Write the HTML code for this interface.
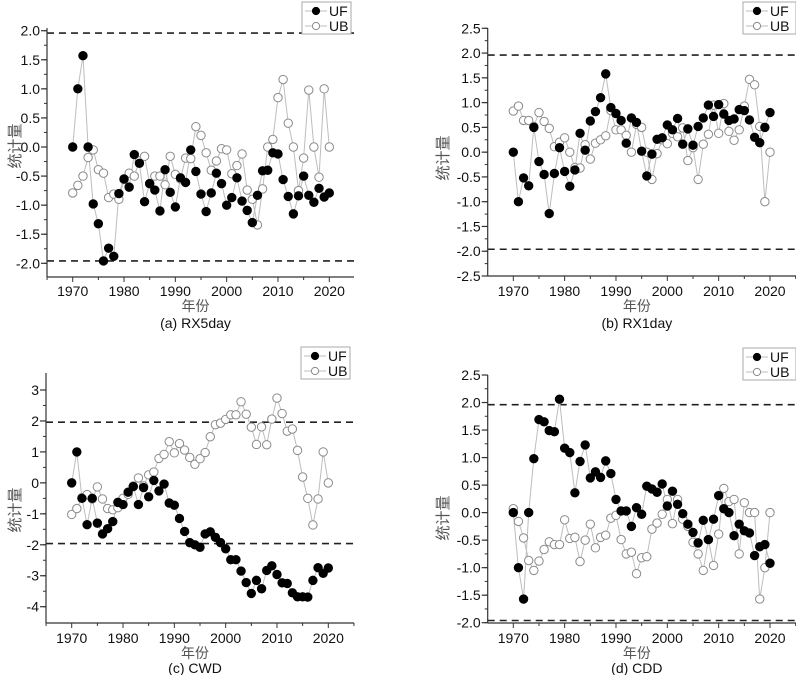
<!DOCTYPE html>
<html><head><meta charset="utf-8">
<style>
html,body{margin:0;padding:0;background:#fff;}
svg{display:block;font-family:"Liberation Sans","Noto Sans CJK SC",sans-serif;}
</style></head>
<body>
<svg id="chart" width="796" height="675" viewBox="0 0 796 675" xmlns="http://www.w3.org/2000/svg"></svg>
<script>
const years = [];
for (let y = 1970; y <= 2020; y++) years.push(y);

const ufA = [0,1.0,1.57,0,-0.98,-1.32,-1.96,-1.74,-1.88,-0.8,-0.55,-0.69,-0.13,-0.28,-0.94,-0.63,-0.74,-1.1,-0.39,-0.78,-1.03,-0.53,-0.61,-0.05,-0.42,-0.81,-1.11,-0.79,-0.45,-0.63,-1.0,-0.87,-0.53,-0.93,-1.09,-1.3,-0.83,-0.41,-0.4,-0.1,-0.12,-0.56,-0.85,-1.15,-0.84,-0.5,-0.83,-0.95,-0.71,-0.86,-0.79];
const ubA = [-0.79,-0.66,-0.5,-0.18,-0.05,-0.39,-0.45,-0.87,-0.81,-0.9,-0.56,-0.45,-0.5,-0.24,-0.16,-0.63,-0.5,-0.5,-0.65,-0.16,-0.47,-0.55,-0.19,-0.2,0.35,0.2,-0.1,-0.4,-0.24,-0.03,-0.05,-0.46,-0.32,-0.12,-0.74,-0.9,-1.34,-0.72,0,0.13,0.85,1.16,0.41,0,-0.75,-0.19,0.98,0,-0.52,1.0,0];
const ufB = [0,-1.0,-0.52,-0.68,0.5,-0.19,-0.45,-1.24,-0.43,0.09,-0.39,-0.69,-0.36,0.38,0.04,0.63,0.82,1.1,1.58,0.9,0.78,0.64,0.18,0.69,0.6,0.02,-0.48,-0.04,0.26,0.29,0.55,0.45,0.68,0.16,0.47,0.14,0.52,0.69,0.95,0.72,0.96,0.77,0.64,0.67,0.86,0.84,0.65,0.3,0.19,0.5,0.8];
const ubB = [0.83,0.93,0.64,0.64,0.52,0.8,0.62,0.48,0.11,0.2,0.29,0,-0.31,-0.32,0.15,-0.14,0.18,0.25,0.33,0.84,0.45,0.45,0.34,0,0.56,0.5,0,-0.55,-0.03,0.25,0.17,0.38,0.31,0.49,-0.17,0.09,-0.55,0.16,0.36,0.95,0.38,0.98,0.42,0.24,0.45,0.93,1.47,1.36,0.52,-1.0,0];
const ufC = [0,1.0,-0.5,-1.35,-0.5,-1.3,-1.65,-1.48,-1.25,-0.63,-0.7,-0.3,-0.12,-0.7,-0.15,-0.45,0.08,-0.26,-0.04,-0.65,-0.72,-1.15,-1.57,-1.93,-2.0,-2.08,-1.65,-1.58,-1.76,-1.93,-2.13,-2.48,-2.48,-2.85,-3.22,-3.57,-3.15,-3.42,-2.83,-2.68,-2.96,-3.23,-3.25,-3.55,-3.68,-3.68,-3.69,-3.15,-2.74,-2.92,-2.75];
const ubC = [-1.02,-0.83,-0.48,-0.38,-0.52,-0.13,-0.52,-0.83,-0.87,-0.8,-0.5,-0.37,-0.1,0.16,-0.1,0.26,0.35,0.79,0.92,1.33,0.97,1.27,1.06,0.82,0.6,0.78,0.98,1.49,1.88,1.93,2.05,2.2,2.2,2.62,2.22,1.8,1.24,1.81,1.23,2.06,2.74,2.24,1.67,1.74,1.05,0.19,-0.5,-1.36,-0.52,1.0,0];
const ufD = [0,-1.0,-1.57,0,0.98,1.69,1.65,1.49,1.47,2.06,1.17,1.09,0.36,0.93,1.23,0.63,0.74,0.64,0.94,0.71,0.24,0.03,0.03,-0.25,0.09,-0.03,0.48,0.43,0.37,0.52,0.12,0.39,0.15,-0.02,-0.21,-0.36,-0.55,-0.14,-0.49,-0.12,0.31,0.07,0,-0.42,-0.21,-0.33,-0.37,-0.78,-0.62,-0.58,-0.92];
const ubD = [0.07,-0.16,-0.46,-0.87,-1.05,-0.88,-0.67,-0.53,-0.58,-0.58,-0.13,-0.47,-0.45,-0.89,-0.5,-0.21,-0.64,-0.45,-0.41,-0.1,-0.05,-0.49,-0.75,-0.72,-1.11,-0.82,-0.8,-0.3,-0.19,-0.03,0.24,-0.2,0.24,-0.12,-0.25,-0.54,-0.75,-1.05,-0.49,-0.96,-0.39,0.44,0.2,0.24,-0.75,0.18,0,0,-1.57,-1.0,0];
const xTicks = [1970,1980,1990,2000,2010,2020];
const yTicksA = [-2,-1.5,-1,-0.5,0,0.5,1,1.5,2];
const yTicksB = [-2.5,-2,-1.5,-1,-0.5,0,0.5,1,1.5,2,2.5];
const yTicksC = [-4,-3,-2,-1,0,1,2,3];
const yTicksD = [-2,-1.5,-1,-0.5,0,0.5,1,1.5,2,2.5];
const critical = 1.96;

const NS = "http://www.w3.org/2000/svg";
const svg = document.getElementById('chart');
function mk(tag, attrs, parent, text) {
  const e = document.createElementNS(NS, tag);
  for (const k in attrs) e.setAttribute(k, attrs[k]);
  if (text !== undefined) e.textContent = text;
  parent.appendChild(e);
  return e;
}

const panels = [
  {id:'a', title:'(a) RX5day', uf:ufA, ub:ubA, ticks:yTicksA, dec:1, axL:47, axR:354, x0:72.7, x1:329.3, v0:2, y0:30.7, v1:-2, y1:263.3, top:28, bot:277, minor:0.25, lblY:296, xtY:311, ttY:328, ylX:20, ylY:146, leg:[302,2,49,32]},
  {id:'b', title:'(b) RX1day', uf:ufB, ub:ubB, ticks:yTicksB, dec:1, axL:487.7, axR:796, x0:513.3, x1:770, v0:2.5, y0:28.3, v1:-2.5, y1:276, top:28, bot:276, minor:0.25, lblY:296, xtY:311, ttY:328, ylX:448, ylY:158, leg:[743,2,53,32]},
  {id:'c', title:'(c) CWD', uf:ufC, ub:ubC, ticks:yTicksC, dec:0, axL:46, axR:354, x0:71.7, x1:328.3, v0:3, y0:390, v1:-4, y1:606.7, top:373, bot:623, minor:0.5, lblY:643, xtY:658, ttY:673, ylX:20, ylY:510, leg:[301,347,49,32]},
  {id:'d', title:'(d) CDD', uf:ufD, ub:ubD, ticks:yTicksD, dec:1, axL:487.7, axR:796, x0:513.3, x1:770, v0:2.5, y0:375, v1:-2, y1:622.7, top:375, bot:623, minor:0.25, lblY:643, xtY:658, ttY:673, ylX:448, ylY:518, leg:[743,348,53,32]}
];

panels.forEach(p => {
  const g = mk('g', {}, svg);
  
  
  const X = yr => p.x0 + (yr - 1970) * (p.x1 - p.x0) / 50;
  const Y = v => p.y0 + (v - p.v0) * (p.y1 - p.y0) / (p.v1 - p.v0);

  [critical, -critical].forEach((c, i) => {
    const l = mk('line', {x1:p.axL, x2:p.axR, y1:Y(c), y2:Y(c), stroke:'#222', 'stroke-width':1.6, 'stroke-dasharray':'7,5'}, g);
    
    
  });

  const ya = mk('line', {x1:p.axL, x2:p.axL, y1:p.top, y2:p.bot, stroke:'#333', 'stroke-width':1.2}, g);
  
  
  const xa = mk('line', {x1:p.axL, x2:p.axR, y1:p.bot, y2:p.bot, stroke:'#333', 'stroke-width':1.2}, g);
  
  

  const tmin = p.ticks[0], tmax = p.ticks[p.ticks.length - 1];
  for (let v = tmin; v <= tmax + 1e-9; v += p.minor) {
    const y = Y(v); if (y < p.top - 1 || y > p.bot + 1) continue;
    mk('line', {x1:p.axL - 3, x2:p.axL, y1:y, y2:y, stroke:'#333', 'stroke-width':1}, g);
  }
  p.ticks.forEach(v => {
    const y = Y(v);
    mk('line', {x1:p.axL - 6, x2:p.axL, y1:y, y2:y, stroke:'#333', 'stroke-width':1.2}, g);
    const t = mk('text', {x:p.axL - 7, y:y + 5, 'text-anchor':'end', 'font-size':14, fill:'#111'}, g, v.toFixed(p.dec));
    
    
  });
  for (let yr = 1965; yr <= 2025; yr += 5) {
    const x = X(yr); if (x < p.axL || x > p.axR) continue;
    const major = yr % 10 === 0;
    mk('line', {x1:x, x2:x, y1:p.bot, y2:p.bot + (major ? 5 : 3), stroke:'#333', 'stroke-width':1}, g);
  }
  xTicks.forEach(yr => {
    const t = mk('text', {x:X(yr), y:p.lblY, 'text-anchor':'middle', 'font-size':14, fill:'#111'}, g, String(yr));
    
    
  });
  const xt = mk('text', {x:(p.axL + p.axR) / 2 - 5, y:p.xtY, 'text-anchor':'middle', 'font-size':14, fill:'#555'}, g, '年份');
  
  
  const tt = mk('text', {x:(p.axL + p.axR) / 2 - 5, y:p.ttY, 'text-anchor':'middle', 'font-size':14, fill:'#111'}, g, p.title);
  
  
  const yt = mk('text', {x:p.ylX, y:p.ylY, 'text-anchor':'middle', 'font-size':15, fill:'#555', transform:`rotate(-90 ${p.ylX} ${p.ylY})`}, g, '统计量');
  
  

  [['ub', p.ub], ['uf', p.uf]].forEach(([nm, arr]) => {
    const pts = arr.map((v, i) => X(years[i]).toFixed(1) + ',' + Y(v).toFixed(1)).join(' ');
    const pl = mk('polyline', {points:pts, fill:'none', stroke:'#bdbdbd', 'stroke-width':1}, g);
    
    
  });
  [['ub', p.ub, false], ['uf', p.uf, true]].forEach(([nm, arr, filled]) => {
    arr.forEach((v, i) => {
      const c = mk('circle', {cx:X(years[i]), cy:Y(v), r:4.2, fill:filled ? '#000' : '#fff', stroke:filled ? '#000' : '#8a8a8a', 'stroke-width':1}, g);
      
      
    });
  });

  const [lx, ly, lw, lh] = p.leg;
  const lg = mk('g', {}, g);
  
  
  mk('rect', {x:lx, y:ly, width:lw, height:lh, fill:'#fff', stroke:'#aaa', 'stroke-width':1}, lg);
  [['UF', true], ['UB', false]].forEach(([lab, filled], k) => {
    const cy = ly + 9 + k * 15;
    const e = mk('g', {}, lg);
    
    
    mk('line', {x1:lx + 3, x2:lx + 25, y1:cy, y2:cy, stroke:'#bdbdbd', 'stroke-width':1}, e);
    mk('circle', {cx:lx + 14, cy:cy, r:3.6, fill:filled ? '#000' : '#fff', stroke:filled ? '#000' : '#8a8a8a'}, e);
    mk('text', {x:lx + 27, y:cy + 5, 'font-size':14, fill:'#111'}, e, lab);
  });
});
</script>
</body></html>
